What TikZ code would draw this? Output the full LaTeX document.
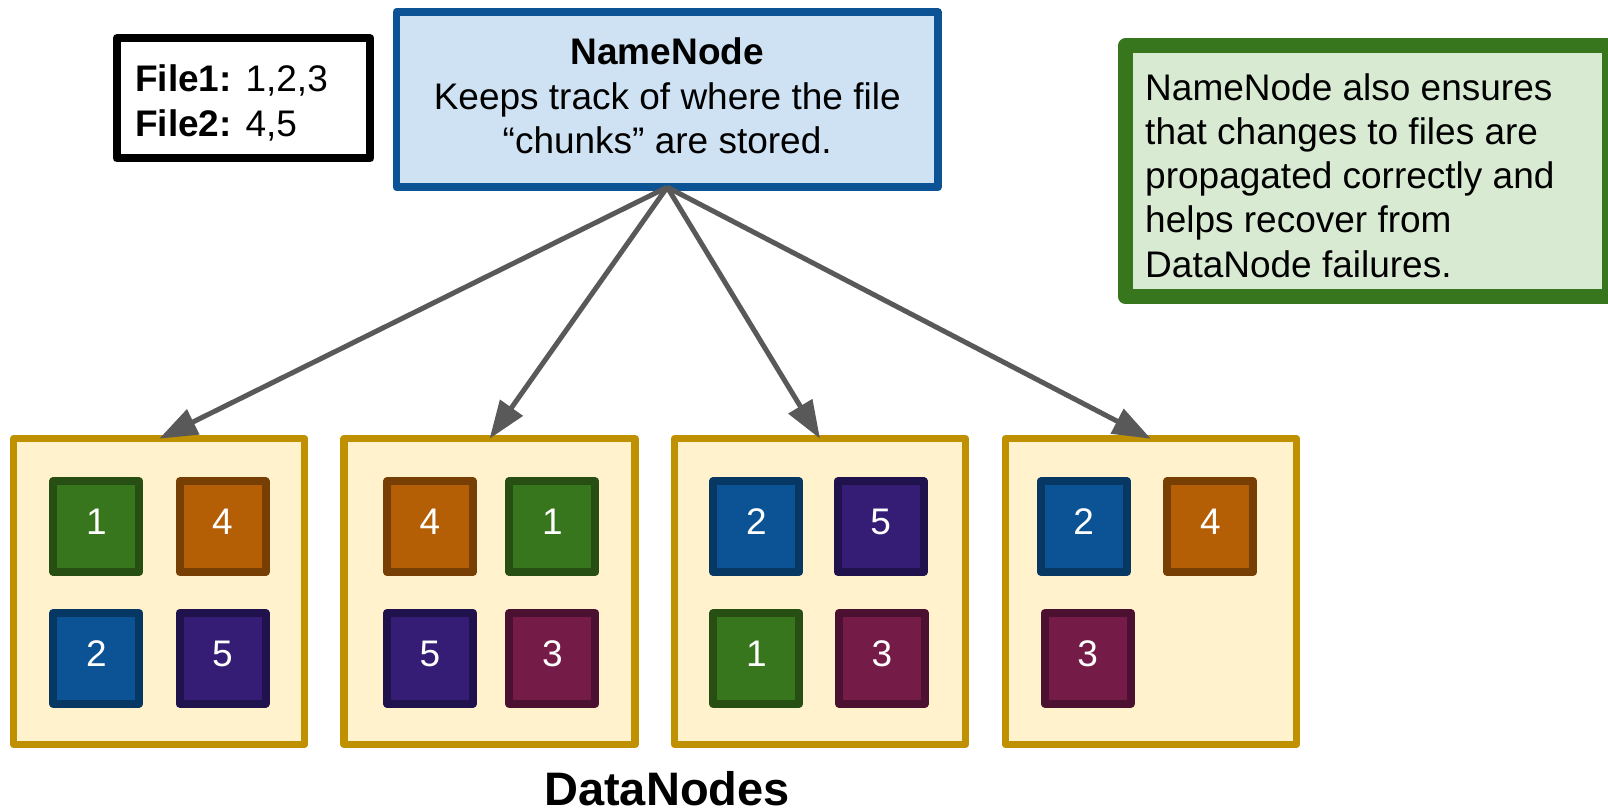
\documentclass[tikz,border=0pt]{standalone}
\usepackage{fontspec}
\setmainfont{Liberation Sans}
\usetikzlibrary{arrows.meta}
\definecolor{arrowgray}{HTML}{595959}
\definecolor{nnfill}{HTML}{CFE2F3}
\definecolor{nnline}{HTML}{0B5394}
\definecolor{notefill}{HTML}{D9EAD3}
\definecolor{noteline}{HTML}{38761D}
\definecolor{dnfill}{HTML}{FFF2CC}
\definecolor{dnline}{HTML}{BF9000}
\definecolor{greenfill}{HTML}{38761D}
\definecolor{greenline}{HTML}{274E13}
\definecolor{orangefill}{HTML}{B45F06}
\definecolor{orangeline}{HTML}{783F04}
\definecolor{bluefill}{HTML}{0B5394}
\definecolor{blueline}{HTML}{073763}
\definecolor{purplefill}{HTML}{351C75}
\definecolor{purpleline}{HTML}{20124D}
\definecolor{maroonfill}{HTML}{741B47}
\definecolor{maroonline}{HTML}{4C1130}
\newcommand{\fsz}[1]{\fontsize{#1}{#1}\selectfont}
\begin{document}
\begin{tikzpicture}[x=1pt,y=-1pt,
  box/.style={draw, rectangle, inner sep=0pt, outer sep=0pt, line join=round},
  chunk/.style={box, line width=8pt, minimum width=86pt, minimum height=90.5pt,
    text=white, font=\fsz{37}, text height=26.5pt, text depth=10pt},
  cgreen/.style={chunk, fill=greenfill, draw=greenline},
  corange/.style={chunk, fill=orangefill, draw=orangeline},
  cblue/.style={chunk, fill=bluefill, draw=blueline},
  cpurple/.style={chunk, fill=purplefill, draw=purpleline},
  cmaroon/.style={chunk, fill=maroonfill, draw=maroonline},
  dnbox/.style={box, line width=7.3pt, draw=dnline, fill=dnfill,
    minimum width=291pt, minimum height=305.6pt},
  txt/.style={inner sep=0pt, font=\fsz{37}},
  conn/.style={draw=arrowgray, line width=5pt, -{Triangle[length=38pt,width=27pt]}}
]
\useasboundingbox (0,0) rectangle (1608,808);
\fill[white] (0,0) rectangle (1608,808);

% file table box
\node[box, line width=8pt, draw=black, fill=white, minimum width=253.6pt, minimum height=120pt] (files) at (243.5,98.3) {};
\node[txt, anchor=base west] (filestext) at (135,91.7)
  {\vtop{\baselineskip=44.3pt\hbox{\textbf{File1:} 1,2,3}\hbox{\textbf{File2:} 4,5}}};

% NameNode
\node[box, line width=7.7pt, draw=nnline, fill=nnfill, minimum width=541.4pt, minimum height=175.1pt] (nn) at (667.2,99.65) {};
\node[txt, anchor=base] (nntext) at (667.2,64.5)
  {\vtop{\baselineskip=44.5pt\halign{\hfil#\hfil\cr\textbf{NameNode}\cr Keeps track of where the file\cr “chunks” are stored.\cr}}};

% note box
\node[box, line width=15pt, draw=noteline, fill=notefill, minimum width=483.7pt, minimum height=250.9pt] (note) at (1367.4,171.25) {};
\node[txt, anchor=base west] (notetext) at (1145,100)
  {\vtop{\baselineskip=44.25pt\hbox{NameNode also ensures}\hbox{that changes to files are}\hbox{propagated correctly and}\hbox{helps recover from}\hbox{DataNode failures.}}};

% DataNodes
\node[dnbox] (dn1) at (159.2,591.5) {};
\node[dnbox] (dn2) at (489.6,591.5) {};
\node[dnbox] (dn3) at (820,591.5) {};
\node[dnbox] (dn4) at (1150.8,591.5) {};

% chunks
\node[cgreen]  (c1a) at (96.3,526.7) {1};
\node[corange] (c1b) at (222.5,526.7) {4};
\node[cblue]   (c1c) at (96.3,658.3) {2};
\node[cpurple] (c1d) at (222.5,658.3) {5};

\node[corange] (c2a) at (430,526.7) {4};
\node[cgreen]  (c2b) at (552.3,526.7) {1};
\node[cpurple] (c2c) at (430,658.3) {5};
\node[cmaroon] (c2d) at (552.3,658.3) {3};

\node[cblue]   (c3a) at (756.3,526.7) {2};
\node[cpurple] (c3b) at (880.7,526.7) {5};
\node[cgreen]  (c3c) at (756.3,658.3) {1};
\node[cmaroon] (c3d) at (881.9,658.3) {3};

\node[cblue]   (c4a) at (1083.7,526.7) {2};
\node[corange] (c4b) at (1210.3,526.7) {4};
\node[cmaroon] (c4c) at (1087.7,658.3) {3};

% connectors
\draw[conn] (nn.south) -- (dn1.north);
\draw[conn] (nn.south) -- (dn2.north);
\draw[conn] (nn.south) -- (dn3.north);
\draw[conn] (nn.south) -- (dn4.north);

% caption
\node[inner sep=0pt, anchor=base, text depth=0pt, font=\fsz{47}\bfseries] (caption) at (667,805) {DataNodes};
\end{tikzpicture}
\end{document}
